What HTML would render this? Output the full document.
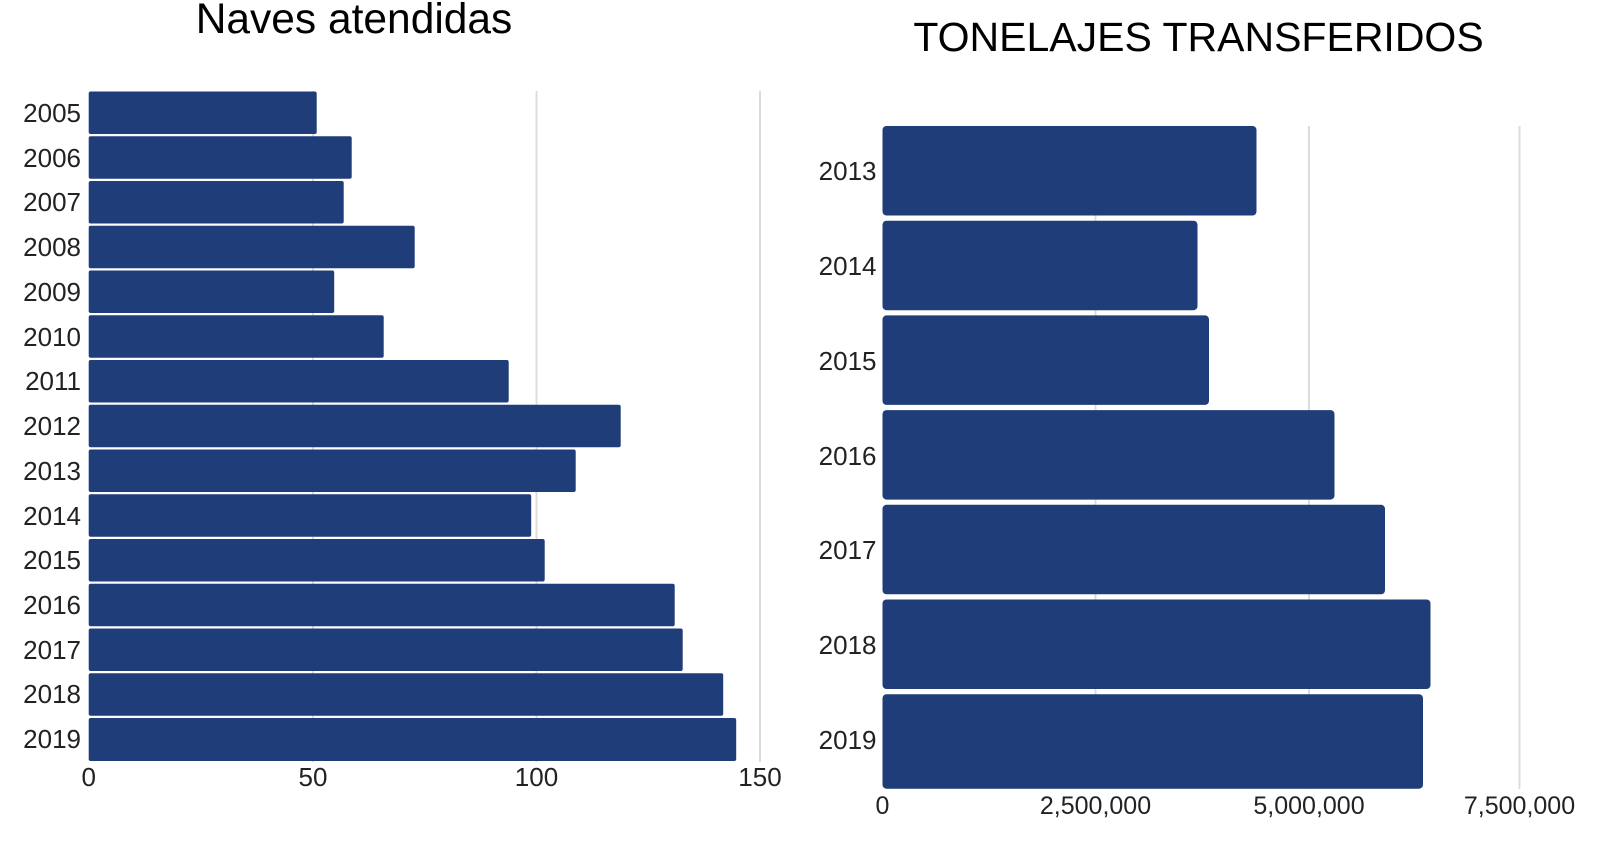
<!DOCTYPE html>
<html><head><meta charset="utf-8"><style>html,body{margin:0;padding:0;background:#fff}svg{display:block}</style></head>
<body>
<svg width="1609" height="844" viewBox="0 0 1609 844" xmlns="http://www.w3.org/2000/svg" font-family="Liberation Sans, sans-serif">
<rect width="1609" height="844" fill="#fff"/>
<!-- Left chart -->
<text x="354" y="33" font-size="42.5" text-anchor="middle" fill="#000">Naves atendidas</text>
<g stroke="#dcdcdc" stroke-width="2">
<line x1="313" y1="91" x2="313" y2="762"/><line x1="536.5" y1="91" x2="536.5" y2="762"/><line x1="760" y1="91" x2="760" y2="762"/>
</g>
<g fill="#1f3d78">
<rect x="88.7" y="91.5" width="228" height="42.5" rx="2"/>
<rect x="88.7" y="136.2" width="263" height="42.5" rx="2"/>
<rect x="88.7" y="181" width="255" height="42.5" rx="2"/>
<rect x="88.7" y="225.7" width="326" height="42.5" rx="2"/>
<rect x="88.7" y="270.5" width="245.5" height="42.5" rx="2"/>
<rect x="88.7" y="315.2" width="295" height="42.5" rx="2"/>
<rect x="88.7" y="360" width="420" height="42.5" rx="2"/>
<rect x="88.7" y="404.7" width="532" height="42.5" rx="2"/>
<rect x="88.7" y="449.5" width="487" height="42.5" rx="2"/>
<rect x="88.7" y="494.2" width="442.5" height="42.5" rx="2"/>
<rect x="88.7" y="539" width="456" height="42.5" rx="2"/>
<rect x="88.7" y="583.7" width="586" height="42.5" rx="2"/>
<rect x="88.7" y="628.5" width="594" height="42.5" rx="2"/>
<rect x="88.7" y="673.2" width="634.5" height="42.5" rx="2"/>
<rect x="88.7" y="718" width="647.5" height="43" rx="2"/>
</g>
<g font-size="26" text-anchor="end" fill="#222">
<text x="81" y="122">2005</text><text x="81" y="167">2006</text><text x="81" y="211">2007</text><text x="81" y="256">2008</text><text x="81" y="301">2009</text><text x="81" y="346">2010</text><text x="81" y="390">2011</text><text x="81" y="435">2012</text><text x="81" y="480">2013</text><text x="81" y="525">2014</text><text x="81" y="569">2015</text><text x="81" y="614">2016</text><text x="81" y="659">2017</text><text x="81" y="703">2018</text><text x="81" y="748">2019</text>
</g>
<g font-size="26" text-anchor="middle" fill="#222">
<text x="88.7" y="786">0</text><text x="313" y="786">50</text><text x="536.5" y="786">100</text><text x="760" y="786">150</text>
</g>
<!-- Right chart -->
<g transform="translate(-4.5,0)">
<text x="1203" y="51" font-size="41" text-anchor="middle" fill="#000">TONELAJES TRANSFERIDOS</text>
<g stroke="#dcdcdc" stroke-width="2">
<line x1="1100" y1="126" x2="1100" y2="789"/><line x1="1313.5" y1="126" x2="1313.5" y2="789"/><line x1="1524" y1="126" x2="1524" y2="789"/>
</g>
<g fill="#1f3d78">
<rect x="887" y="126" width="374" height="89.5" rx="4"/>
<rect x="887" y="220.7" width="315" height="89.5" rx="4"/>
<rect x="887" y="315.4" width="326.5" height="89.5" rx="4"/>
<rect x="887" y="410.1" width="452" height="89.5" rx="4"/>
<rect x="887" y="504.8" width="502.5" height="89.5" rx="4"/>
<rect x="887" y="599.5" width="548" height="89.5" rx="4"/>
<rect x="887" y="694.2" width="540.5" height="94.5" rx="4"/>
</g>
<g font-size="26" text-anchor="end" fill="#222">
<text x="881" y="180">2013</text><text x="881" y="275">2014</text><text x="881" y="370">2015</text><text x="881" y="465">2016</text><text x="881" y="559">2017</text><text x="881" y="654">2018</text><text x="881" y="749">2019</text>
</g>
<g font-size="25" text-anchor="middle" fill="#222">
<text x="887" y="814">0</text><text x="1100" y="814">2,500,000</text><text x="1313.5" y="814">5,000,000</text><text x="1524" y="814">7,500,000</text>
</g>
</g>
</svg>
</body></html>
